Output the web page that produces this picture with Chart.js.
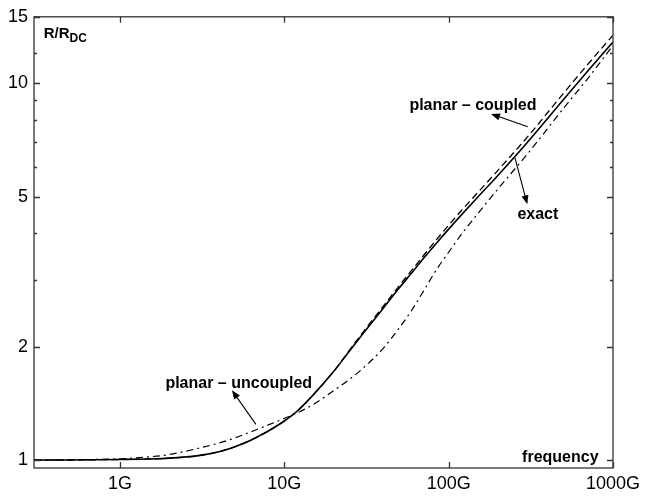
<!DOCTYPE html>
<html>
<head>
<meta charset="utf-8">
<script src="https://cdn.jsdelivr.net/npm/chart.js@4/dist/chart.umd.min.js"></script>
<style>
  html, body { margin: 0; padding: 0; background: #fff; }
  #wrap { width: 646px; height: 497px; }
</style>
</head>
<body>
<div id="wrap"><canvas id="myChart" width="646" height="497"></canvas></div>
<script>
// frequency in GHz and R/Rdc for the three models
let freqGHz   = [0.3, 0.5, 1, 1.5, 2, 3, 4, 5, 6, 7, 8, 10, 12, 15, 20, 25, 30, 40, 50, 60, 70, 85, 100, 120, 150, 200, 300, 500, 700, 1000];
let exact     = [1.000, 1.001, 1.004, 1.007, 1.012, 1.028, 1.052, 1.085, 1.12, 1.158, 1.195, 1.27, 1.35, 1.49, 1.72, 1.95, 2.16, 2.53, 2.86, 3.15, 3.42, 3.78, 4.10, 4.48, 4.98, 5.70, 6.95, 9.05, 10.75, 12.85];
let coupled   = [1.000, 1.001, 1.004, 1.007, 1.012, 1.028, 1.052, 1.085, 1.12, 1.158, 1.195, 1.27, 1.35, 1.49, 1.72, 1.96, 2.18, 2.56, 2.90, 3.20, 3.48, 3.86, 4.20, 4.60, 5.12, 5.88, 7.18, 9.40, 11.2, 13.4];
let uncoupled = [1.000, 1.002, 1.008, 1.02, 1.035, 1.075, 1.11, 1.145, 1.18, 1.212, 1.24, 1.29, 1.335, 1.405, 1.53, 1.64, 1.75, 1.98, 2.24, 2.51, 2.80, 3.22, 3.56, 3.98, 4.50, 5.25, 6.47, 8.58, 10.27, 12.6];

// axis ticks
let xTicks = [1, 10, 100, 1000];
let yTicks = [1, 2, 5, 10, 15];
let yMinorTicks = [3, 4, 6, 7, 8, 9, 12];

const FONT = "'Liberation Sans', Arial, Helvetica, sans-serif";

function toPoints(values) {
    return freqGHz.map((f, i) => ({ x: f, y: values[i] }));
}

// arrows and labels placed in data coordinates (GHz, R/Rdc)
const notes = [
    { text: 'planar \u2013 coupled', x: 57.7, y: 8.49, from: [303, 7.66], to: [181, 8.29] },
    { text: 'exact', x: 262, y: 4.36, from: [253, 6.35], to: [301, 4.77] },
    { text: 'planar \u2013 uncoupled', x: 1.89, y: 1.556, from: [6.72, 1.244], to: [4.8, 1.533] }
];

function arrow(ctx, x1, y1, x2, y2) {
    const ang = Math.atan2(y2 - y1, x2 - x1);
    const len = 9, half = 3.5;
    ctx.beginPath();
    ctx.moveTo(x1, y1);
    ctx.lineTo(x2 - Math.cos(ang) * len * 0.8, y2 - Math.sin(ang) * len * 0.8);
    ctx.stroke();
    ctx.beginPath();
    ctx.moveTo(x2, y2);
    ctx.lineTo(x2 - Math.cos(ang) * len - Math.sin(ang) * half, y2 - Math.sin(ang) * len + Math.cos(ang) * half);
    ctx.lineTo(x2 - Math.cos(ang) * len + Math.sin(ang) * half, y2 - Math.sin(ang) * len - Math.cos(ang) * half);
    ctx.closePath();
    ctx.fill();
}

const framePlugin = {
    id: 'frame',
    afterDraw(chart) {
        const { ctx, chartArea: a, scales: { x, y } } = chart;
        ctx.save();

        // box
        ctx.strokeStyle = '#333';
        ctx.lineWidth = 1.3;
        ctx.strokeRect(a.left, a.top, a.right - a.left, a.bottom - a.top);

        // inward ticks on all four sides
        ctx.beginPath();
        xTicks.forEach(v => {
            const px = Math.round(x.getPixelForValue(v)) + 0.5;
            ctx.moveTo(px, a.bottom); ctx.lineTo(px, a.bottom - 6);
            ctx.moveTo(px, a.top); ctx.lineTo(px, a.top + 6);
        });
        yTicks.forEach(v => {
            const py = Math.round(y.getPixelForValue(v)) + 0.5;
            ctx.moveTo(a.left, py); ctx.lineTo(a.left + 6, py);
            ctx.moveTo(a.right, py); ctx.lineTo(a.right - 6, py);
        });
        yMinorTicks.forEach(v => {
            const py = Math.round(y.getPixelForValue(v)) + 0.5;
            ctx.moveTo(a.left, py); ctx.lineTo(a.left + 3, py);
            ctx.moveTo(a.right, py); ctx.lineTo(a.right - 3, py);
        });
        ctx.stroke();

        // annotations
        ctx.fillStyle = '#000';
        ctx.strokeStyle = '#000';
        ctx.lineWidth = 1.1;
        ctx.font = 'bold 16px ' + FONT;
        ctx.textBaseline = 'alphabetic';
        notes.forEach(n => {
            ctx.textAlign = 'left';
            ctx.fillText(n.text, x.getPixelForValue(n.x), y.getPixelForValue(n.y));
            arrow(ctx,
                x.getPixelForValue(n.from[0]), y.getPixelForValue(n.from[1]),
                x.getPixelForValue(n.to[0]), y.getPixelForValue(n.to[1]));
        });

        // axis names inside the box
        ctx.textAlign = 'right';
        ctx.fillText('frequency', x.getPixelForValue(817), y.getPixelForValue(0.988));

        ctx.textAlign = 'left';
        const rx = x.getPixelForValue(0.344), ry = y.getPixelForValue(13.2);
        ctx.font = 'bold 15px ' + FONT;
        ctx.fillText('R/R', rx, ry);
        const w = ctx.measureText('R/R').width;
        ctx.font = 'bold 12px ' + FONT;
        ctx.fillText('DC', rx + w, ry + 4);

        ctx.restore();
    }
};

const chart = document.getElementById('myChart').getContext('2d');

const myChart = new Chart(chart, {
    type: 'line',
    data: {
        datasets: [{
            label: 'exact',
            data: toPoints(exact),
            borderColor: '#000',
            borderWidth: 1.6,
            order: 3
        }, {
            label: 'planar - coupled',
            data: toPoints(coupled),
            borderColor: '#000',
            borderWidth: 1.3,
            borderDash: [7, 4],
            order: 2
        }, {
            label: 'planar - uncoupled',
            data: toPoints(uncoupled),
            borderColor: '#000',
            borderWidth: 1.2,
            borderDash: [7, 4, 2, 4],
            order: 1
        }]
    },
    options: {
        responsive: false,
        animation: false,
        events: [],
        elements: {
            point: { radius: 0 },
            line: { cubicInterpolationMode: 'monotone', fill: false }
        },
        layout: { padding: { top: 13, right: 33, left: 0, bottom: 0 } },
        plugins: {
            legend: { display: false },
            tooltip: { enabled: false },
            title: { display: false }
        },
        scales: {
            x: {
                type: 'logarithmic',
                min: Math.pow(10, -0.5),
                max: 1000,
                grid: { display: false, drawTicks: false },
                border: { display: false },
                afterBuildTicks: (scale) => { scale.ticks = xTicks.map(v => ({ value: v })); },
                afterFit: (scale) => { scale.height = 29; },
                ticks: {
                    autoSkip: false,
                    maxRotation: 0,
                    padding: 5,
                    color: '#000',
                    font: { family: FONT, size: 18 },
                    callback: (v) => v + 'G'
                }
            },
            y: {
                type: 'logarithmic',
                min: 0.953,
                max: 15,
                grid: { display: false, drawTicks: false },
                border: { display: false },
                afterBuildTicks: (scale) => { scale.ticks = yTicks.map(v => ({ value: v })); },
                afterFit: (scale) => { scale.width = 34; },
                ticks: {
                    autoSkip: false,
                    padding: 6,
                    color: '#000',
                    font: { family: FONT, size: 18 },
                    callback: (v) => String(v)
                }
            }
        }
    },
    plugins: [framePlugin]
});
</script>
</body>
</html>
